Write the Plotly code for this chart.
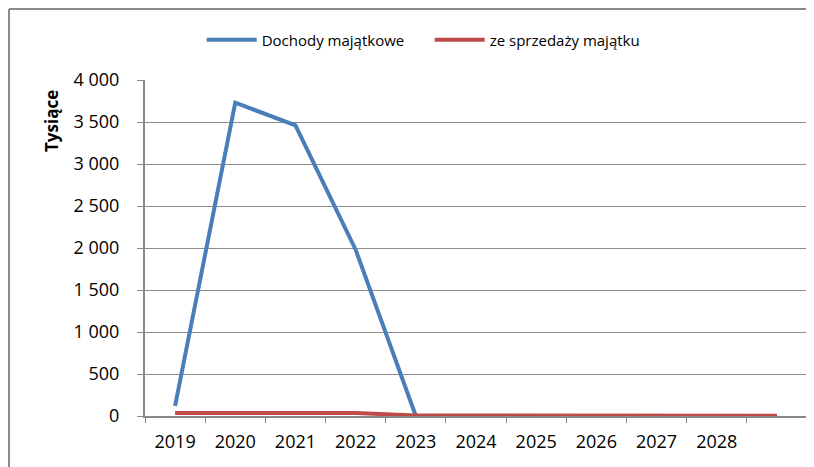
import plotly.graph_objects as go

# ---------------------------------------------------------------------------
# Data (thousands)
# ---------------------------------------------------------------------------
YEARS = ["2019", "2020", "2021", "2022", "2023", "2024", "2025",
         "2026", "2027", "2028", "2029"]
YEAR_LABELS = ["2019", "2020", "2021", "2022", "2023", "2024", "2025",
               "2026", "2027", "2028", ""]
DOCHODY_MAJATKOWE = [120, 3730, 3460, 1980, 0, 0, 0, 0, 0, 0, 0]
ZE_SPRZEDAZY = [35, 38, 38, 36, 5, 5, 5, 5, 5, 4, 3]

COLOR_BLUE = "#4a7ebb"
COLOR_RED = "#be4b48"
COLOR_AXIS = "#898989"
FONT = "Open Sans"

fig = go.Figure()

fig.add_trace(go.Scatter(
    x=YEARS, y=DOCHODY_MAJATKOWE, mode="lines", name="Dochody majątkowe",
    line=dict(color=COLOR_BLUE, width=4),
))
fig.add_trace(go.Scatter(
    x=YEARS, y=ZE_SPRZEDAZY, mode="lines", name="ze sprzedaży majątku",
    line=dict(color=COLOR_RED, width=4),
))

# outer chart frame (top + left edges visible)
fig.add_shape(type="line", xref="paper", yref="paper",
              x0=-0.2054, x1=-0.2054, y0=-1, y1=1.2113,
              line=dict(color="#8a8a8a", width=2))
fig.add_shape(type="line", xref="paper", yref="paper",
              x0=-0.2054, x1=2, y0=1.2113, y1=1.2113,
              line=dict(color="#8a8a8a", width=2))

fig.add_annotation(
    text="<b>Tysiące</b>", xref="paper", yref="paper",
    x=-0.1405, y=0.878, textangle=-90, showarrow=False,
    xanchor="center", yanchor="middle",
    font=dict(family=FONT, size=17, color="black"),
)

# page body has an 8px margin, so the figure is sized/shifted to compensate
fig.update_layout(
    width=806, height=459,
    margin=dict(l=137, r=7, t=72, b=51),
    paper_bgcolor="white", plot_bgcolor="white",
    separators=", ",
    font=dict(family=FONT, size=18, color="black"),
    showlegend=True,
    legend=dict(orientation="h", x=0.0856, y=1.119, xanchor="left",
                yanchor="middle", font=dict(size=15),
                itemwidth=50, entrywidth=163, traceorder="normal"),
)
fig.update_xaxes(
    type="category", tickvals=YEARS, ticktext=YEAR_LABELS,
    range=[-0.5, 10.5], tickson="boundaries",
    ticks="outside", ticklen=5, tickcolor=COLOR_AXIS,
    ticklabelstandoff=8,
    showline=True, linecolor=COLOR_AXIS, linewidth=2,
    showgrid=False,
)
fig.update_yaxes(
    range=[0, 4000], dtick=500, tickformat=",d",
    ticks="outside", ticklen=6, tickcolor=COLOR_AXIS,
    ticklabelstandoff=14,
    showline=True, linecolor=COLOR_AXIS, linewidth=2,
    showgrid=True, gridcolor="#8c8c8c", gridwidth=1,
    zeroline=False,
)

fig.write_html("out.html")
